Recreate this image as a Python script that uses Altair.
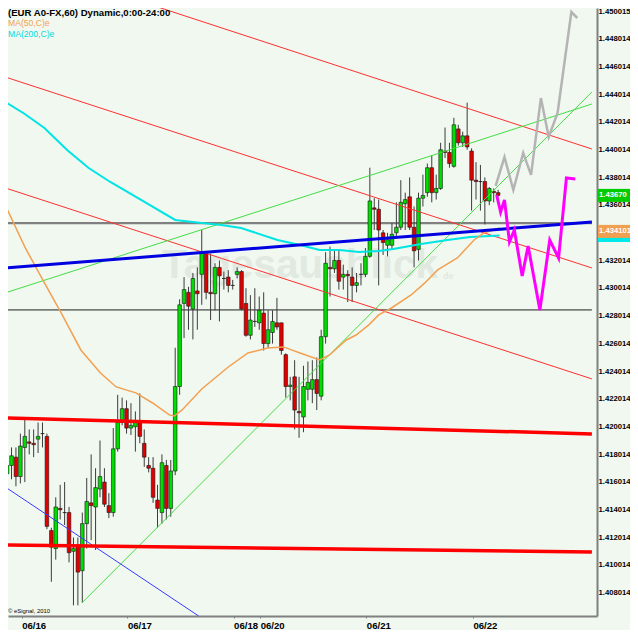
import altair as alt
import numpy as np
import pandas as pd

# ---------------- candles (hourly EUR A0-FX) ----------------
opens = [1.4166,1.4172,1.4178,1.4164,1.4185,1.4189,1.4188,1.4191,1.4195,1.4193,
         1.4125,1.4112,1.4141,1.4138,1.4138,1.4110,1.4114,1.4096,1.4130,1.4145,
         1.4142,1.4155,1.4160,1.4143,1.4138,1.4184,1.4203,1.4213,1.4199,1.4200,
         1.4203,1.4188,1.4172,1.4170,1.4147,1.4138,1.4172,1.4141,1.4168,1.4229,
         1.4289,1.4297,1.4285,1.4298,1.4310,1.4325,1.4297,1.4296,1.4315,1.4307,
         1.4308,1.4302,1.4310,1.4312,1.4289,1.4266,1.4276,1.4275,1.4282,1.4260,
         1.4268,1.4275,1.4275,1.4252,1.4229,1.4236,1.4211,1.4207,1.4227,1.4227,
         1.4234,1.4222,1.4265,1.4315,1.4314,1.4320,1.4308,1.4310,1.4308,1.4302,
         1.4310,1.4310,1.4323,1.4358,1.4357,1.4340,1.4331,1.4331,1.4340,1.4344,
         1.4361,1.4366,1.4344,1.4328,1.4365,1.4369,1.4387,1.4369,1.4372,1.4399,
         1.4398,1.4388,1.4415,1.4405,1.4410,1.4399,1.4378,1.4377,1.4377,1.4363,
         1.4370,1.4369]
closes = [1.4172,1.4179,1.4164,1.4186,1.4193,1.4188,1.4187,1.4193,1.4195,1.4128,
          1.4113,1.4142,1.4140,1.4138,1.4109,1.4112,1.4095,1.4130,1.4146,1.4143,
          1.4156,1.4164,1.4144,1.4138,1.4184,1.4203,1.4213,1.4199,1.4201,1.4203,
          1.4193,1.4178,1.4170,1.4149,1.4141,1.4174,1.4141,1.4168,1.4229,1.4288,
          1.4299,1.4287,1.4307,1.4296,1.4326,1.4297,1.4296,1.4315,1.4309,1.4307,
          1.4302,1.4302,1.4312,1.4285,1.4266,1.4277,1.4276,1.4284,1.4260,1.4270,
          1.4276,1.4272,1.4255,1.4229,1.4230,1.4212,1.4210,1.4229,1.4232,1.4234,
          1.4224,1.4265,1.4318,1.4314,1.4320,1.4305,1.4310,1.4309,1.4302,1.4304,
          1.4310,1.4323,1.4363,1.4357,1.4342,1.4333,1.4335,1.4339,1.4344,1.4362,
          1.4364,1.4344,1.4327,1.4365,1.4367,1.4387,1.4369,1.4372,1.4400,1.4398,
          1.4390,1.4418,1.4405,1.4410,1.4402,1.4378,1.4377,1.4377,1.4363,1.4372,
          1.4369,1.4367]
highs = [1.4185,1.4185,1.4185,1.4195,1.4205,1.4198,1.4198,1.4203,1.4203,1.4195,
         1.4127,1.4149,1.4158,1.4160,1.4142,1.4120,1.4120,1.4138,1.4163,1.4180,
         1.4170,1.4190,1.4170,1.4152,1.4199,1.4223,1.4221,1.4219,1.4217,1.4211,
         1.4224,1.4198,1.4178,1.4178,1.4158,1.4180,1.4176,1.4176,1.4257,1.4292,
         1.4308,1.4301,1.4311,1.4315,1.4342,1.4326,1.4325,1.4318,1.4320,1.4312,
         1.4313,1.4306,1.4315,1.4313,1.4300,1.4295,1.4300,1.4294,1.4297,1.4284,
         1.4284,1.4293,1.4275,1.4253,1.4236,1.4248,1.4236,1.4244,1.4247,1.4248,
         1.4250,1.4270,1.4326,1.4330,1.4328,1.4328,1.4317,1.4313,1.4315,1.4311,
         1.4318,1.4329,1.4387,1.4365,1.4364,1.4342,1.4340,1.4347,1.4362,1.4378,
         1.4369,1.4380,1.4359,1.4369,1.4382,1.4390,1.4396,1.4382,1.4405,1.4416,
         1.4405,1.4423,1.4418,1.4413,1.4434,1.4401,1.4391,1.4389,1.4380,1.4373,
         1.4372,1.4371]
lows = [1.4164,1.4162,1.4157,1.4159,1.4160,1.4180,1.4178,1.4181,1.4185,1.4126,
        1.4088,1.4104,1.4133,1.4129,1.4102,1.4071,1.4071,1.4073,1.4112,1.4118,
        1.4111,1.4149,1.4142,1.4134,1.4135,1.4182,1.4201,1.4195,1.4194,1.4182,
        1.4188,1.4171,1.4167,1.4145,1.4127,1.4130,1.4133,1.4135,1.4165,1.4223,
        1.4264,1.4270,1.4263,1.4270,1.4288,1.4292,1.4277,1.4284,1.4276,1.4299,
        1.4297,1.4299,1.4307,1.4284,1.4265,1.4263,1.4272,1.4270,1.4255,1.4257,
        1.4260,1.4270,1.4252,1.4221,1.4219,1.4198,1.4192,1.4196,1.4219,1.4217,
        1.4212,1.4219,1.4260,1.4294,1.4311,1.4299,1.4299,1.4290,1.4290,1.4297,
        1.4302,1.4308,1.4322,1.4342,1.4302,1.4324,1.4323,1.4328,1.4337,1.4342,
        1.4342,1.4342,1.4315,1.4320,1.4359,1.4366,1.4362,1.4364,1.4371,1.4394,
        1.4387,1.4387,1.4403,1.4402,1.4400,1.4356,1.4364,1.4356,1.4346,1.4360,
        1.4362,1.4366]

# ---------------- axes ----------------
x_ticks = [3.3, 27.2, 51.2, 57.2, 81.2, 105.3]
x_tick_labels = ["06/16", "06/17", "06/18", "06/20", "06/21", "06/22"]
y_ticks = [1.450015, 1.448014, 1.446014, 1.444014, 1.442014, 1.440014, 1.438014,
           1.436014, 1.434014, 1.432014, 1.430014, 1.428014, 1.426014, 1.424014,
           1.422014, 1.420014, 1.418014, 1.416014, 1.414014, 1.412014, 1.410014,
           1.408014]

# ---------------- studies ----------------
ma50_x = [0.0, 4.0, 8.44, 12.22, 16.67, 21.11, 24.67, 29.11, 32.89, 36.67, 37.78,
          39.56, 44.0, 50.0, 54.44, 58.89, 62.44, 66.22, 70.67, 72.89, 76.67, 78.89,
          81.78, 84.0, 86.89, 91.33, 94.44, 97.33, 101.78, 105.56, 107.78, 111.33]
ma50_y = [1.43572, 1.43298, 1.43038, 1.42821, 1.42554, 1.42388, 1.42287, 1.42244,
          1.42171, 1.42085, 1.42077, 1.42121, 1.42272, 1.42431, 1.42532, 1.42568,
          1.42576, 1.42532, 1.42482, 1.42518, 1.42626, 1.42662, 1.42735, 1.42807,
          1.42857, 1.42951, 1.43038, 1.43132, 1.43218, 1.43348, 1.43399, 1.43435]
ma200_x = [-0.44, 4.0, 8.44, 13.56, 18.44, 23.33, 30.67, 38.0, 44.0, 48.44, 52.89,
           61.11, 66.22, 70.67, 75.11, 79.56, 84.0, 87.33, 93.56, 99.56, 104.67, 111.33]
ma200_y = [1.44345, 1.44258, 1.44157, 1.43998, 1.43868, 1.43767, 1.43630, 1.43493,
           1.43471, 1.43457, 1.43435, 1.43348, 1.43312, 1.43276, 1.43276, 1.43262,
           1.43269, 1.43283, 1.43319, 1.43348, 1.43370, 1.43380]

# ---------------- drawn projections ----------------
grey_x = [110.44, 112.44, 114.44, 116.67, 118.44, 120.67, 122.44, 124.44, 127.56, 128.89]
grey_y = [1.43738, 1.43947, 1.43709, 1.43976, 1.43818, 1.44373, 1.44092, 1.44265,
          1.44994, 1.44951]
mag_x = [110.67, 111.56, 112.44, 113.56, 114.67, 116.44, 117.78, 120.44, 122.67,
         124.67, 126.44, 128.44]
mag_y = [1.43673, 1.43550, 1.43637, 1.43334, 1.43420, 1.43088, 1.43305, 1.42843,
         1.43348, 1.43218, 1.43796, 1.43789]

# ---------------- drawn trend lines (start/end) ----------------
red_top = ([29.3, 132.2], [1.45080, 1.44005])
red_mid = ([-0.44, 132.2], [1.44525, 1.43146])
red_low = ([-0.44, 132.2], [1.43724, 1.42345])
red_thick_hi = ([-0.44, 132.2], [1.42063, 1.41948])
red_thick_lo = ([-0.44, 132.2], [1.41146, 1.41096])
blue_thick = ([-0.44, 132.2], [1.43146, 1.43478])
blue_thin = ([-0.44, 43.3], [1.41565, 1.40633])
green_hi = ([-0.44, 132.2], [1.42966, 1.44330])
green_lo = ([16.9, 132.2], [1.40727, 1.44417])
grey_level = ([-0.44, 132.2], [1.43470, 1.43470])
black_level = ([-0.44, 132.2], [1.42843, 1.42843])

# right-edge value labels (drawn bottom to top)
value_labels = ["1.433807", "1.434101", "1.43670"]
value_prices = [1.433807, 1.434101, 1.43670]
value_colors = ["#00e8e8", "#f0a050", "#00cc00"]

FONT = "Liberation Sans"
BG = "#f0f8f0"

# plot shows the original frame from 8px in (the page margin hides the rest)
xs = alt.Scale(domain=[1.333, 132.222], nice=False, zero=False)
ys = alt.Scale(domain=[1.40633, 1.450232], nice=False, zero=False)

label_expr = " : ".join(
    f"abs(datum.value - {t}) < 0.05 ? '{l}'" for t, l in zip(x_ticks, x_tick_labels)
) + " : ''"

xaxis = alt.Axis(values=x_ticks, labelExpr=label_expr, title=None, grid=False,
                 orient="bottom", tickSize=2, tickColor="#808080",
                 domainColor="#808080", domainWidth=2, labelAlign="left",
                 labelPadding=2, labelBaseline="top", labelFont=FONT,
                 labelFontSize=9.6, labelFontWeight="bold", labelColor="#000000",
                 labelOverlap=False, labelFlush=False, zindex=0)
yaxis = alt.Axis(values=y_ticks, format=".6f", title=None, grid=False,
                 orient="right", ticks=False, domainColor="#808080", domainWidth=2,
                 labelPadding=1, labelAlign="left", labelBaseline="middle",
                 labelFont=FONT, labelFontSize=7.7, labelFontWeight="bold",
                 labelColor="#000000", labelOverlap=False, labelFlush=False, zindex=0)


def X(f):
    return alt.X(f"{f}:Q", scale=xs, axis=xaxis)


def Y(f):
    return alt.Y(f"{f}:Q", scale=ys, axis=yaxis)


def lines_df(specs):
    rows = []
    for k, (xv, yv, col, w) in enumerate(specs):
        for j, (a, b) in enumerate(zip(xv, yv)):
            rows.append({"id": k, "ord": j, "x": a, "y": b, "col": col, "w": w})
    return pd.DataFrame(rows)


def line_layer(specs):
    return alt.Chart(lines_df(specs)).mark_line(clip=True).encode(
        x=X("x"), y=Y("y"), detail="id:N", order="ord:Q",
        color=alt.Color("col:N", scale=None),
        strokeWidth=alt.StrokeWidth("w:Q", scale=None))


def text(t, x, y, color, size, weight="normal", align="left"):
    return alt.Chart(pd.DataFrame({"t": [t]})).mark_text(
        font=FONT, fontSize=size, fontWeight=weight, color=color,
        align=align, baseline="middle").encode(
        x=alt.value(x), y=alt.value(y), text="t:N")


# watermark
wm = text("Tagesausblick", 292, 258, "#e1e9e1", 40.5, "bold", "center")
wm2 = text("de", 435, 268, "#e1e9e1", 9, "bold")

levels = line_layer([
    (*black_level, "#202020", 1),
    (*grey_level, "#808080", 2.2),
])

cdf = pd.DataFrame({"x": np.arange(len(opens)), "o": opens, "h": highs,
                    "l": lows, "c": closes})
cdf["dir"] = np.where(cdf.c > cdf.o, "up", np.where(cdf.c < cdf.o, "down", "flat"))

wicks = alt.Chart(cdf).mark_rule(color="#3c3c3c", strokeWidth=1, clip=True).encode(
    x=X("x"), y=Y("l"), y2="h:Q")
bodies = alt.Chart(cdf).mark_bar(width=3.6, stroke="#151515", strokeWidth=0.6,
                                 clip=True).encode(
    x=X("x"), y=Y("o"), y2="c:Q",
    color=alt.Color("dir:N", scale=alt.Scale(domain=["up", "down", "flat"],
                                             range=["#00dd00", "#e00000", "#000000"]),
                    legend=None))

trend = line_layer([
    (*red_top, "#ff3030", 1),
    (*red_mid, "#ff3030", 1),
    (*red_low, "#ff3030", 1),
    (*green_hi, "#44dd44", 1),
    (*green_lo, "#44dd44", 1),
    (*blue_thin, "#3a3aff", 1),
    (*red_thick_hi, "#ff0000", 3.5),
    (*red_thick_lo, "#ff0000", 3.5),
])
mas = line_layer([
    (ma200_x, ma200_y, "#00e4e4", 2),
    (ma50_x, ma50_y, "#f4a050", 1.5),
])
blue = line_layer([(*blue_thick, "#0000e0", 3)])
proj = line_layer([
    (grey_x, grey_y, "#b4b4b4", 2.5),
    (mag_x, mag_y, "#ff00ff", 3),
])

title = text("(EUR A0-FX,60) Dynamic,0:00-24:00", 0, 4.5, "#000000", 9.6, "bold")
leg50 = text("MA(50,C)e", 0, 15, "#f4a050", 8.6)
leg200 = text("MA(200,C)e", 0, 26, "#00dcdc", 8.6)
copy = text("© eSignal, 2010", 0, 603, "#000000", 5.9)

half = 0.00047
value_layers = []
for lab, p, col in zip(value_labels, value_prices, value_colors):
    d = pd.DataFrame({"lab": [lab], "p": [p], "top": [p + half], "bot": [p - half]})
    value_layers.append(alt.Chart(d).mark_rect(color=col).encode(
        x=alt.value(590), x2=alt.value(622), y=Y("top"), y2="bot:Q"))
    value_layers.append(alt.Chart(d).mark_text(
        font=FONT, fontSize=7.7, fontWeight="bold", color="#ffffff",
        align="left", baseline="middle").encode(
        x=alt.value(591), y=Y("p"), text="lab:N"))

chart = alt.layer(
    wm, wm2, levels, wicks, bodies, trend, mas, blue, proj,
    title, leg50, leg200, copy, *value_layers
).properties(
    width=589, height=608,
    autosize=alt.AutoSizeParams(type="none"),
    padding={"left": 0, "top": 0, "right": 33, "bottom": 14},
).configure(background=BG).configure_view(strokeWidth=0)

chart.save("out.html", embed_options={"renderer": "svg", "actions": False})
